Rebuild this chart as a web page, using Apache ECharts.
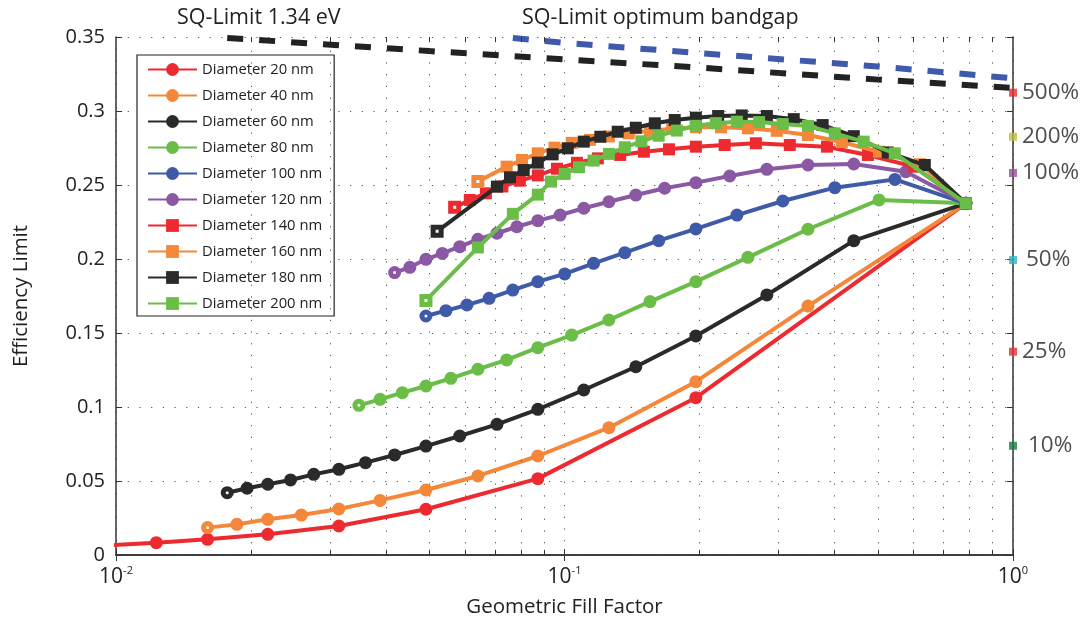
<!DOCTYPE html>
<html><head><meta charset="utf-8">
<script src="https://cdn.jsdelivr.net/npm/echarts@6/dist/echarts.min.js"></script>
<style>html,body{margin:0;padding:0;background:#fff}#c{width:1090px;height:625px}</style>
</head><body><div id="c"></div>
<script>
const FONT = '"Open Sans", "DejaVu Sans", sans-serif';

const seriesNames = ['Diameter 20 nm','Diameter 40 nm','Diameter 60 nm','Diameter 80 nm','Diameter 100 nm',
  'Diameter 120 nm','Diameter 140 nm','Diameter 160 nm','Diameter 180 nm','Diameter 200 nm'];

const d20x = [0.0097, 0.0123, 0.0160, 0.0218, 0.0314, 0.0491, 0.0872, 0.1963, 0.785];
const d20y = [0.0066, 0.0083, 0.0106, 0.0140, 0.0196, 0.0309, 0.0516, 0.1063, 0.2376];

const d40x = [0.0160, 0.0186, 0.0218, 0.0259, 0.0314, 0.0388, 0.0491, 0.0641, 0.0872, 0.1256, 0.1963, 0.3490, 0.785];
const d40y = [0.0185, 0.0207, 0.0241, 0.0270, 0.0311, 0.0369, 0.0439, 0.0534, 0.0669, 0.0860, 0.1171, 0.1682, 0.2376];

const d60x = [0.0177, 0.0196, 0.0218, 0.0245, 0.0276, 0.0314, 0.0360, 0.0418, 0.0491, 0.0584, 0.0707, 0.0872, 0.1104, 0.1442, 0.1963, 0.2826, 0.4416, 0.785];
const d60y = [0.0421, 0.0451, 0.0478, 0.0507, 0.0545, 0.0579, 0.0624, 0.0676, 0.0736, 0.0804, 0.0883, 0.0984, 0.1115, 0.1272, 0.1480, 0.1757, 0.2124, 0.2376];

const d80x = [0.0348, 0.0388, 0.0435, 0.0491, 0.0558, 0.0641, 0.0743, 0.0872, 0.1038, 0.1256, 0.1551, 0.1963, 0.2564, 0.3490, 0.5026, 0.785];
const d80y = [0.1011, 0.1052, 0.1097, 0.1142, 0.1194, 0.1255, 0.1318, 0.1401, 0.1486, 0.1588, 0.1712, 0.1847, 0.2011, 0.2201, 0.2399, 0.2376];

const d100x = [0.0491, 0.0544, 0.0606, 0.0679, 0.0767, 0.0872, 0.1001, 0.1161, 0.1363, 0.1622, 0.1963, 0.2424, 0.3068, 0.4006, 0.5454, 0.785];
const d100y = [0.1615, 0.1651, 0.1689, 0.1734, 0.1790, 0.1847, 0.1899, 0.1971, 0.2043, 0.2124, 0.2203, 0.2297, 0.2392, 0.2482, 0.2538, 0.2376];

const d120x = [0.0418, 0.0452, 0.0491, 0.0534, 0.0584, 0.0641, 0.0707, 0.0783, 0.0872, 0.0978, 0.1104, 0.1256, 0.1442, 0.1672, 0.1963, 0.2336, 0.2826, 0.3490, 0.4416, 0.5768, 0.785];
const d120y = [0.1908, 0.1944, 0.1998, 0.2038, 0.2083, 0.2133, 0.2174, 0.2218, 0.2259, 0.2297, 0.2343, 0.2387, 0.2432, 0.2478, 0.2516, 0.2561, 0.2606, 0.2635, 0.2642, 0.2590, 0.2376];

const d140x = [0.0569, 0.0615, 0.0668, 0.0727, 0.0795, 0.0872, 0.0962, 0.1066, 0.1187, 0.1331, 0.1503, 0.1710, 0.1963, 0.2276, 0.2671, 0.3179, 0.3848, 0.4749, 0.6010, 0.785];
const d140y = [0.2349, 0.2399, 0.2444, 0.2490, 0.2529, 0.2565, 0.2610, 0.2650, 0.2680, 0.2703, 0.2725, 0.2741, 0.2759, 0.2770, 0.2782, 0.2770, 0.2759, 0.2703, 0.2624, 0.2376];

const d160x = [0.0641, 0.0743, 0.0804, 0.0872, 0.0950, 0.1038, 0.1139, 0.1256, 0.1391, 0.1550, 0.1738, 0.1963, 0.2233, 0.2564, 0.2974, 0.3489, 0.4152, 0.5024, 0.6203, 0.785];
const d160y = [0.2523, 0.2624, 0.2669, 0.2714, 0.2752, 0.2785, 0.2805, 0.2828, 0.2849, 0.2866, 0.2880, 0.2890, 0.2890, 0.2883, 0.2866, 0.2838, 0.2790, 0.2725, 0.2640, 0.2376];

const d180x = [0.0520, 0.0707, 0.0756, 0.0811, 0.0872, 0.0941, 0.1017, 0.1104, 0.1202, 0.1314, 0.1442, 0.1590, 0.1761, 0.1963, 0.2201, 0.2484, 0.2826, 0.3244, 0.3763, 0.4416, 0.5255, 0.6359, 0.785];
const d180y = [0.2187, 0.2489, 0.2552, 0.2601, 0.2651, 0.2707, 0.2748, 0.2793, 0.2826, 0.2860, 0.2887, 0.2917, 0.2939, 0.2955, 0.2966, 0.2970, 0.2966, 0.2945, 0.2905, 0.2830, 0.2720, 0.2635, 0.2376];

const d200x = [0.0491, 0.0641, 0.0767, 0.0872, 0.0933, 0.1001, 0.1077, 0.1161, 0.1256, 0.1363, 0.1484, 0.1622, 0.1780, 0.1963, 0.2175, 0.2423, 0.2716, 0.3066, 0.3490, 0.4006, 0.4645, 0.5451, 0.785];
const d200y = [0.1720, 0.2078, 0.2305, 0.2435, 0.2523, 0.2575, 0.2620, 0.2665, 0.2710, 0.2755, 0.2795, 0.2833, 0.2868, 0.2900, 0.2918, 0.2928, 0.2925, 0.2912, 0.2899, 0.2849, 0.2793, 0.2714, 0.2376];

// SQ-limit reference lines (dashed), starting where they enter the frame
const sq134x = [0.0177, 0.05, 0.1, 0.2, 0.5, 1];
const sq134y = [0.3493, 0.3405, 0.3349, 0.3293, 0.3212, 0.3155];
const sqOptx = [0.0767, 0.1, 0.2, 0.5, 1];
const sqOpty = [0.3493, 0.3460, 0.3391, 0.3301, 0.3221];

// coverage markers on right edge
const coverageLabels = ['500%', '200%', '100%', '50%', '25%', '10%'];
const coverageValues = [0.3124, 0.2826, 0.2581, 0.1993, 0.1374, 0.0738];

// axis decorations
const minorGrid = [0.02,0.03,0.04,0.05,0.06,0.07,0.08,0.09,0.2,0.3,0.4,0.5,0.6,0.7,0.8,0.9];

const seriesColors = ['#ec2a2f','#f4873a','#2a2a2a','#6abd47','#3f5aa8','#8b58a4','#ec2a2f','#f4873a','#2a2a2a','#6abd47'];
const seriesSymbols = ['circle','circle','circle','circle','circle','circle','rect','rect','rect','rect'];
const coverageColors = ['#ec2a2f','#bcc13a','#9a4f9f','#2bb6c3','#ec2a2f','#1e7b45'];
const coverageGaps = [5, 5, 5, 9, 5, 11];

const seriesX = [d20x,d40x,d60x,d80x,d100x,d120x,d140x,d160x,d180x,d200x];
const seriesY = [d20y,d40y,d60y,d80y,d100y,d120y,d140y,d160y,d180y,d200y];

function buildData(xs, ys, color) {
  return xs.map((x, i) => i === 0
    ? { value: [x, ys[i]], symbolSize: 8, itemStyle: { color: '#fff', borderColor: color, borderWidth: 5 } }
    : [x, ys[i]]);
}

const series = [];
const tickLen = 0.0035;
series.push({
  type: 'line', name: 'grid', data: [], silent: true, z: 0,
  markLine: {
    silent: true, symbol: ['none', 'none'], animation: false, label: { show: false },
    lineStyle: { color: '#555', width: 1, type: [1.2, 10.5] },
    data: minorGrid.map(v => ({ xAxis: v }))
  }
});
series.push({
  type: 'line', name: 'ticks', data: [], silent: true, z: 1,
  markLine: {
    silent: true, symbol: ['none', 'none'], animation: false, label: { show: false },
    lineStyle: { color: '#333', width: 1, type: 'solid' },
    data: minorGrid.flatMap(v => [
      [{ coord: [v, 0] }, { coord: [v, tickLen] }],
      [{ coord: [v, 0.35] }, { coord: [v, 0.35 - tickLen] }]
    ])
  }
});
series.push({
  type: 'line', name: 'SQ-Limit 1.34 eV', data: sq134x.map((x, i) => [x, sq134y[i]]),
  symbol: 'none', z: 2, silent: true,
  lineStyle: { color: '#222', width: 6, type: [16, 16] }
});
series.push({
  type: 'line', name: 'SQ-Limit optimum bandgap', data: sqOptx.map((x, i) => [x, sqOpty[i]]),
  symbol: 'none', z: 2, silent: true,
  lineStyle: { color: '#3f5aab', width: 6, type: [16, 16] }
});
seriesNames.forEach((name, i) => {
  const c = seriesColors[i];
  series.push({
    type: 'line', name, data: buildData(seriesX[i], seriesY[i], c),
    symbol: seriesSymbols[i], symbolSize: seriesSymbols[i] === 'circle' ? 13 : 12,
    color: c, lineStyle: { color: c, width: 4 }, itemStyle: { color: c },
    z: 3 + i, clip: true, emphasis: { disabled: true }, silent: true
  });
});
series.push({
  type: 'scatter', name: 'coverage', clip: false, z: 20, silent: true,
  symbol: 'rect', symbolSize: 8,
  data: coverageValues.map((v, i) => ({
    value: [1, v], itemStyle: { color: coverageColors[i] },
    label: { distance: coverageGaps[i] }
  })),
  label: {
    show: true, position: 'right', fontSize: 22.5, color: '#222', fontFamily: FONT,
    formatter: p => coverageLabels[p.dataIndex]
  }
});

const axisColor = '#333';
const option = {
  animation: false,
  backgroundColor: '#fff',
  title: [
    { text: 'SQ-Limit 1.34 eV', left: 172, top: 2, textStyle: { fontSize: 21.5, fontWeight: 'normal', color: '#222', fontFamily: FONT } },
    { text: 'SQ-Limit optimum bandgap', left: 517, top: 2, textStyle: { fontSize: 21.5, fontWeight: 'normal', color: '#222', fontFamily: FONT } }
  ],
  grid: { left: 116, right: 77, top: 37, bottom: 70 },
  legend: {
    data: seriesNames, orient: 'vertical', left: 137, top: 55,
    itemWidth: 49, itemHeight: 16, itemGap: 11,
    padding: [7, 12, 5, 10], borderColor: '#222', borderWidth: 1.2, backgroundColor: '#fff',
    selectedMode: false, textStyle: { fontSize: 14.8, color: '#222', fontFamily: FONT }
  },
  xAxis: [
    {
      type: 'log', logBase: 10, min: 0.01, max: 1, position: 'bottom',
      name: 'Geometric Fill Factor', nameLocation: 'middle', nameGap: 42,
      nameTextStyle: { fontSize: 20.5, color: '#222', fontFamily: FONT },
      axisLine: { lineStyle: { color: axisColor, width: 1.5 } },
      axisTick: { inside: true, length: 6, lineStyle: { color: axisColor } },
      splitLine: { show: true, lineStyle: { color: '#555', width: 1, type: [1.2, 10.5] } },
      axisLabel: {
        margin: 10, color: '#222', fontFamily: FONT,
        formatter: v => '{b|10}{s|' + Math.round(Math.log10(v)) + '}',
        rich: { b: { fontSize: 21, fontFamily: FONT, color: '#222' }, s: { fontSize: 11, fontFamily: FONT, color: '#222', padding: [0, 0, 14, 0] } }
      }
    },
    {
      type: 'log', logBase: 10, min: 0.01, max: 1, position: 'top',
      axisLine: { lineStyle: { color: axisColor, width: 1.5 } },
      axisTick: { inside: true, length: 6, lineStyle: { color: axisColor } },
      axisLabel: { show: false }, splitLine: { show: false }
    }
  ],
  yAxis: [
    {
      type: 'value', min: 0, max: 0.35, interval: 0.05, position: 'left',
      name: 'Efficiency Limit', nameLocation: 'middle', nameGap: 84,
      nameTextStyle: { fontSize: 20.5, color: '#222', fontFamily: FONT },
      axisLine: { show: true, lineStyle: { color: axisColor, width: 1.5 } },
      axisTick: { show: true, inside: true, length: 6, lineStyle: { color: axisColor } },
      splitLine: { show: true, lineStyle: { color: '#555', width: 1, type: [1.2, 10.5] } },
      axisLabel: { fontSize: 20, color: '#222', fontFamily: FONT, margin: 11 }
    },
    {
      type: 'value', min: 0, max: 0.35, interval: 0.05, position: 'right',
      axisLine: { show: true, lineStyle: { color: axisColor, width: 1.5 } },
      axisTick: { show: true, inside: true, length: 6, lineStyle: { color: axisColor } },
      axisLabel: { show: false }, splitLine: { show: false }
    }
  ],
  series
};

const chart = echarts.init(document.getElementById('c'), null, { renderer: 'canvas' });
chart.setOption(option);
</script>
</body></html>
